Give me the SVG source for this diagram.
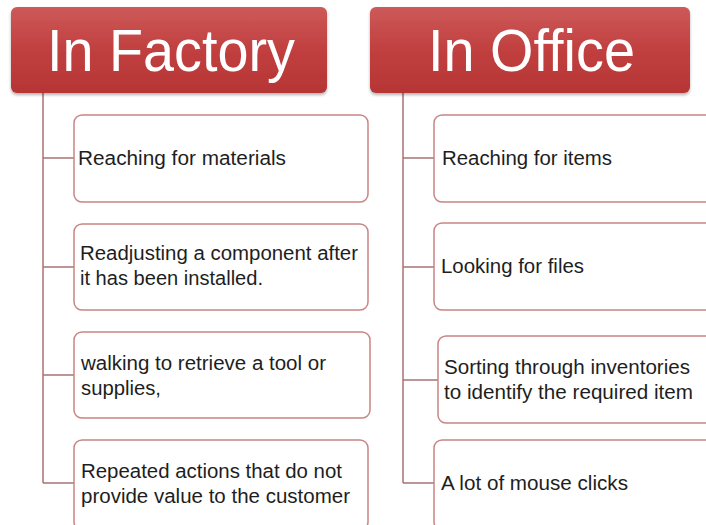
<svg xmlns="http://www.w3.org/2000/svg" width="706" height="525" viewBox="0 0 706 525">
<defs>
<linearGradient id="hdr" x1="0" y1="0" x2="0" y2="1">
<stop offset="0" stop-color="#cd5a59"/>
<stop offset="0.5" stop-color="#c13f3f"/>
<stop offset="1" stop-color="#b63535"/>
</linearGradient>
<filter id="sh" x="-5%" y="-10%" width="110%" height="125%">
<feDropShadow dx="0" dy="2" stdDeviation="1.5" flood-color="#000" flood-opacity="0.3"/>
</filter>
</defs>
<style>
.hdr{fill:url(#hdr);filter:url(#sh)}
.ht{font-family:"Liberation Sans",Arial,sans-serif;font-size:60px;fill:#ffffff}
.box{fill:#ffffff;stroke:#c98585;stroke-width:1.5}
.t{font-family:"Liberation Sans",Arial,sans-serif;font-size:20px;fill:#1e1e1e}
.c{fill:none;stroke:#a87373;stroke-width:1.5}
</style>
<rect width="706" height="525" fill="#ffffff"/>
<g id="connectors">
<path class="c" d="M43 93V483M43 158H74M43 267H74M43 375H74M43 483H74"/>
<path class="c" d="M403 93V483M403 158H434M403 267H434M403 380H438M403 483H434"/>
</g>
<g id="factory">
<rect class="hdr" x="11" y="7" width="316" height="86" rx="6"/>
<text class="ht" x="47" y="71" textLength="248" lengthAdjust="spacingAndGlyphs">In Factory</text>
</g>
<g id="office">
<rect class="hdr" x="370" y="7" width="320" height="86" rx="6"/>
<text class="ht" x="428" y="71" textLength="207" lengthAdjust="spacingAndGlyphs">In Office</text>
</g>
<g id="f1">
<rect class="box" x="74" y="115" width="294" height="87" rx="8"/>
<text class="t" x="78" y="165" textLength="208" lengthAdjust="spacingAndGlyphs">Reaching for materials</text>
</g>
<g id="f2">
<rect class="box" x="74" y="224" width="294" height="86" rx="8"/>
<text class="t" x="80" y="260" textLength="278" lengthAdjust="spacingAndGlyphs">Readjusting a component after</text>
<text class="t" x="80" y="285" textLength="183" lengthAdjust="spacingAndGlyphs">it has been installed.</text>
</g>
<g id="f3">
<rect class="box" x="74" y="332" width="296" height="86" rx="8"/>
<text class="t" x="81" y="370" textLength="245" lengthAdjust="spacingAndGlyphs">walking to retrieve a tool or</text>
<text class="t" x="81" y="395" textLength="80" lengthAdjust="spacingAndGlyphs">supplies,</text>
</g>
<g id="f4">
<rect class="box" x="74" y="440" width="294" height="90" rx="8"/>
<text class="t" x="81" y="478" textLength="261" lengthAdjust="spacingAndGlyphs">Repeated actions that do not</text>
<text class="t" x="81" y="503" textLength="269" lengthAdjust="spacingAndGlyphs">provide value to the customer</text>
</g>
<g id="o1">
<rect class="box" x="434" y="115" width="290" height="87" rx="8"/>
<text class="t" x="442" y="165" textLength="170" lengthAdjust="spacingAndGlyphs">Reaching for items</text>
</g>
<g id="o2">
<rect class="box" x="434" y="223" width="290" height="87" rx="8"/>
<text class="t" x="441" y="273" textLength="143" lengthAdjust="spacingAndGlyphs">Looking for files</text>
</g>
<g id="o3">
<rect class="box" x="438" y="336" width="290" height="87" rx="8"/>
<text class="t" x="444" y="374" textLength="246" lengthAdjust="spacingAndGlyphs">Sorting through inventories</text>
<text class="t" x="444" y="399" textLength="249" lengthAdjust="spacingAndGlyphs">to identify the required item</text>
</g>
<g id="o4">
<rect class="box" x="434" y="440" width="290" height="90" rx="8"/>
<text class="t" x="441" y="490" textLength="187" lengthAdjust="spacingAndGlyphs">A lot of mouse clicks</text>
</g>
</svg>
